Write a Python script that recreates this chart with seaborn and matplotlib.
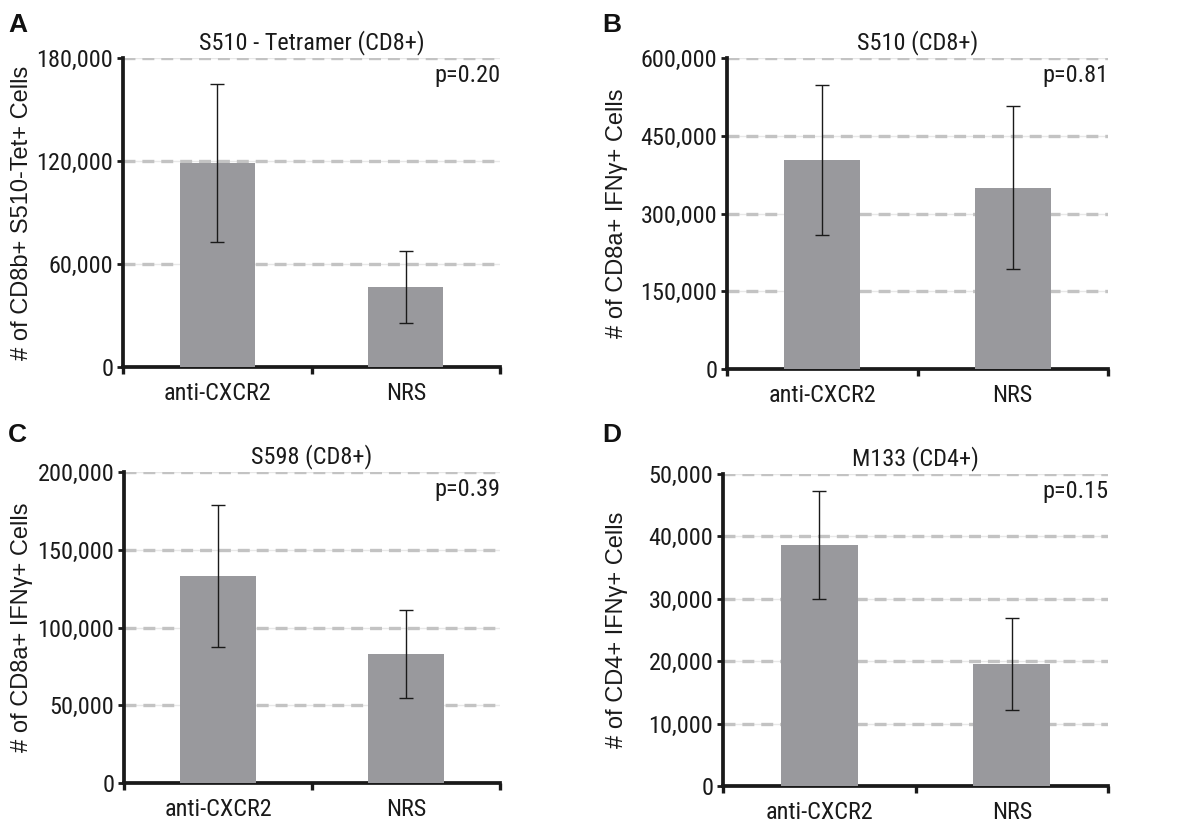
import matplotlib
matplotlib.use("Agg")
import matplotlib.pyplot as plt
import seaborn as sns
import pandas as pd
import numpy as np

sns.set_theme(style="white")
NARROW = ['Liberation Sans Narrow', 'Roboto Condensed', 'Archivo Narrow', 'Liberation Sans', 'DejaVu Sans']
REGULAR = ['Liberation Sans', 'DejaVu Sans']
plt.rcParams['font.family'] = NARROW
plt.rcParams['lines.scale_dashes'] = False

groups = ["anti-CXCR2", "NRS"]

# Panel data
a_means = [119000, 46500]
a_err = [46000, 21000]
b_means = [403000, 350000]
b_err = [144000, 158000]
c_means = [133000, 83000]
c_err = [45500, 28500]
d_means = [38600, 19500]
d_err = [8600, 7400]

a_ticks = [0, 60000, 120000, 180000]
b_ticks = [0, 150000, 300000, 450000, 600000]
c_ticks = [0, 50000, 100000, 150000, 200000]
d_ticks = [0, 10000, 20000, 30000, 40000, 50000]

titles = ["S510 - Tetramer (CD8+)", "S510 (CD8+)", "S598 (CD8+)", "M133 (CD4+)"]
ylabels = ["# of CD8b+ S510-Tet+ Cells", "# of CD8a+ IFN\u03b3+ Cells",
           "# of CD8a+ IFN\u03b3+ Cells", "# of CD4+ IFN\u03b3+ Cells"]
pvals = ["p=0.20", "p=0.81", "p=0.39", "p=0.15"]
letters = ["A", "B", "C", "D"]

panels = [
    (a_means, a_err, a_ticks),
    (b_means, b_err, b_ticks),
    (c_means, c_err, c_ticks),
    (d_means, d_err, d_ticks),
]

W, H = 1182, 824
fig = plt.figure(figsize=(W / 100, H / 100), dpi=100)

# axes rectangles in pixels: left, top, right, bottom
rects_px = [
    (123, 58, 500, 367),
    (727, 58, 1108, 369),
    (124, 472, 500, 783),
    (723, 474, 1108, 786),
]
label_x = [-0.239, -0.26, -0.242, -0.247]
letter_pos = [(8, 32), (602, 32), (8, 442), (602, 442)]

bar_color = "#99999d"
ink = "#1a1a1a"
FS = 17.5

for i, ((means, errs, ticks), (l, t, r, b)) in enumerate(zip(panels, rects_px)):
    ax = fig.add_axes([l / W, 1 - b / H, (r - l) / W, (b - t) / H])
    df = pd.DataFrame({"group": groups, "value": means})
    sns.barplot(data=df, x="group", y="value", color=bar_color, width=0.4,
                errorbar=None, ax=ax, zorder=3, saturation=1)
    for p in ax.patches:
        p.set_edgecolor("none")
    ax.errorbar(np.arange(len(groups)), means, yerr=errs, fmt="none",
                ecolor=ink, elinewidth=1.0, capsize=5, capthick=1.0, zorder=4)
    ax.set_xlim(-0.5, 1.5)
    ax.set_ylim(0, ticks[-1])
    ax.set_yticks(ticks)
    ax.set_yticklabels([f"{v:,}" for v in ticks])
    # grid: thin solid line + thick dashes
    for v in ticks[1:]:
        ax.axhline(v, color="#e8e8e8", lw=1.0, zorder=1)
        ax.axhline(v, color="#c3c3c3", lw=2.4, dashes=(8.6, 5.0), zorder=2)
    # x ticks at category boundaries
    ax.set_xticks([-0.5, 0.5, 1.5], minor=False)
    ax.set_xticklabels(["", "", ""])
    ax.set_xticks([0, 1], minor=True)
    ax.set_xticklabels(groups, minor=True)
    ax.tick_params(axis="x", which="major", direction="out", length=5, width=2.4,
                   color=ink, bottom=True)
    ax.tick_params(axis="x", which="minor", length=0, pad=11, labelsize=FS,
                   labelcolor=ink, bottom=True)
    ax.tick_params(axis="y", direction="out", length=4, width=2.0, pad=3,
                   labelsize=FS, labelcolor=ink, color=ink, left=True)
    for s in ["top", "right"]:
        ax.spines[s].set_visible(False)
    for s in ["left", "bottom"]:
        ax.spines[s].set_color(ink)
        ax.spines[s].set_linewidth(2.7)
    ax.set_xlabel("")
    ax.set_ylabel(ylabels[i], fontsize=17, color=ink, family=REGULAR)
    ax.yaxis.set_label_coords(label_x[i], 0.5)
    ax.set_title(titles[i], fontsize=FS, color=ink, pad=6)
    ax.text(1.0, 0.98, pvals[i], transform=ax.transAxes, ha="right", va="top",
            fontsize=FS, color=ink)
    lx, ly = letter_pos[i]
    fig.text(lx / W, 1 - ly / H, letters[i], fontsize=19, fontweight="bold",
             ha="left", va="baseline", color="#111111", family=REGULAR)

fig.savefig("out.png", dpi=100)
